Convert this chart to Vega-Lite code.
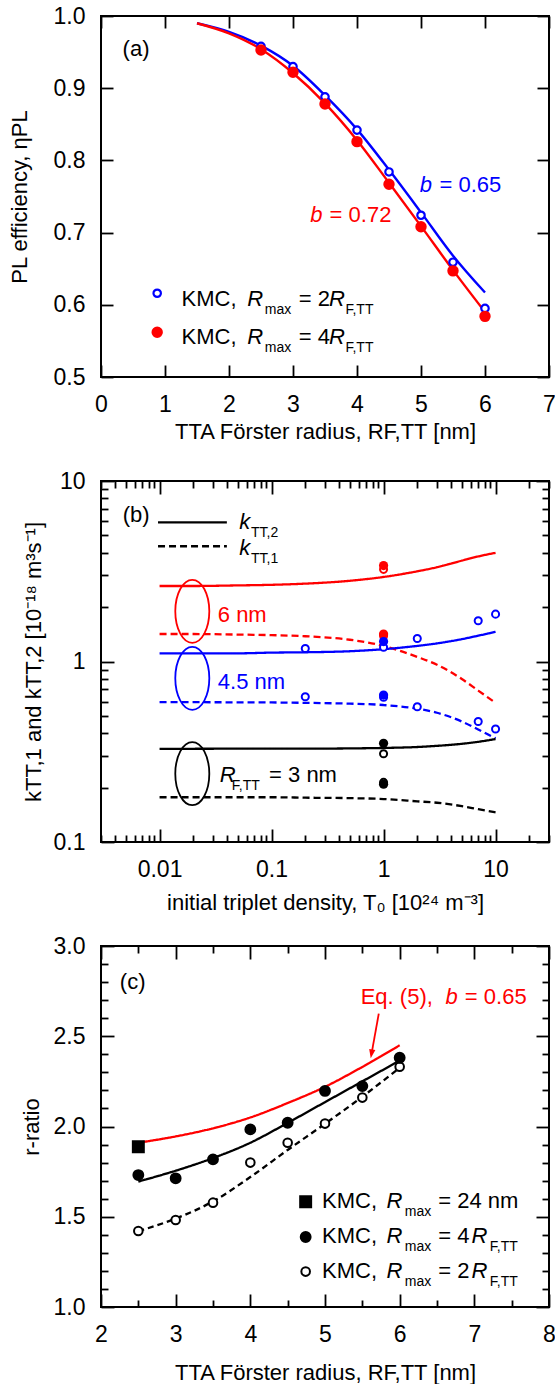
{
  "$schema": "https://vega.github.io/schema/vega-lite/v6.json",
  "background": "white",
  "padding": {"left": 7, "top": 4, "right": 0, "bottom": 0},
  "spacing": 104,
  "bounds": "flush",
  "resolve": {"scale": {"color": "independent", "stroke": "independent", "fill": "independent", "size": "independent", "shape": "independent", "strokeDash": "independent"}},
  "config": {
    "font": "Liberation Sans",
    "view": {"stroke": "#000000", "strokeWidth": 2},
    "axis": {"domain": false, "grid": false, "tickColor": "#000000", "tickWidth": 1.8, "labelFont": "Liberation Sans", "labelFontSize": 23, "labelColor": "#000000", "titleFont": "Liberation Sans", "titleFontSize": 22, "titleFontWeight": "normal", "titleColor": "#000000", "labelFlush": false, "labelOverlap": false}
  },
  "datasets": {
    "a_lines": [
      {"R": 1.5, "eta": 0.990, "grp": "2R"}, {"R": 2.0, "eta": 0.978, "grp": "2R"}, {"R": 2.5, "eta": 0.959, "grp": "2R"}, {"R": 3.0, "eta": 0.931, "grp": "2R"}, {"R": 3.5, "eta": 0.890, "grp": "2R"}, {"R": 4.0, "eta": 0.843, "grp": "2R"}, {"R": 4.5, "eta": 0.787, "grp": "2R"}, {"R": 5.0, "eta": 0.728, "grp": "2R"}, {"R": 5.5, "eta": 0.668, "grp": "2R"}, {"R": 6.0, "eta": 0.617, "grp": "2R"},
      {"R": 1.5, "eta": 0.990, "grp": "4R"}, {"R": 2.0, "eta": 0.976, "grp": "4R"}, {"R": 2.5, "eta": 0.954, "grp": "4R"}, {"R": 3.0, "eta": 0.921, "grp": "4R"}, {"R": 3.5, "eta": 0.879, "grp": "4R"}, {"R": 4.0, "eta": 0.828, "grp": "4R"}, {"R": 4.5, "eta": 0.769, "grp": "4R"}, {"R": 5.0, "eta": 0.709, "grp": "4R"}, {"R": 5.5, "eta": 0.648, "grp": "4R"}, {"R": 6.0, "eta": 0.590, "grp": "4R"}
    ],
    "a_pts": [
      {"R": 2.5, "eta": 0.958, "sim": "2R"}, {"R": 3.0, "eta": 0.930, "sim": "2R"}, {"R": 3.5, "eta": 0.888, "sim": "2R"}, {"R": 4.0, "eta": 0.842, "sim": "2R"}, {"R": 4.5, "eta": 0.784, "sim": "2R"}, {"R": 5.0, "eta": 0.724, "sim": "2R"}, {"R": 5.5, "eta": 0.659, "sim": "2R"}, {"R": 6.0, "eta": 0.595, "sim": "2R"},
      {"R": 2.5, "eta": 0.953, "sim": "4R"}, {"R": 3.0, "eta": 0.922, "sim": "4R"}, {"R": 3.5, "eta": 0.878, "sim": "4R"}, {"R": 4.0, "eta": 0.826, "sim": "4R"}, {"R": 4.5, "eta": 0.767, "sim": "4R"}, {"R": 5.0, "eta": 0.708, "sim": "4R"}, {"R": 5.5, "eta": 0.647, "sim": "4R"}, {"R": 6.0, "eta": 0.584, "sim": "4R"}
    ],
    "a_leg": [
      {"R": 0.878, "eta": 0.616, "sim": "2R"}, {"R": 0.878, "eta": 0.562, "sim": "4R"}
    ],
    "a_txt": [
      {"R": 0.3375, "eta": 0.944, "text": "(a)", "part": "roman", "grp": "plain"},
      {"R": 4.98, "eta": 0.7565, "text": "b", "part": "italic", "grp": "2R"},
      {"R": 5.288, "eta": 0.7565, "text": "= 0.65", "part": "roman", "grp": "2R"},
      {"R": 3.27, "eta": 0.715, "text": "b", "part": "italic", "grp": "4R"},
      {"R": 3.572, "eta": 0.715, "text": "= 0.72", "part": "roman", "grp": "4R"},
      {"R": 1.258, "eta": 0.599, "text": "KMC,", "part": "roman", "grp": "plain"},
      {"R": 2.284, "eta": 0.599, "text": "R", "part": "italic", "grp": "plain"},
      {"R": 2.56, "eta": 0.599, "text": "max", "part": "sub", "grp": "plain"},
      {"R": 3.09, "eta": 0.599, "text": "= 2", "part": "roman", "grp": "plain"},
      {"R": 3.561, "eta": 0.599, "text": "R", "part": "italic", "grp": "plain"},
      {"R": 3.82, "eta": 0.599, "text": "F,TT", "part": "sub", "grp": "plain"},
      {"R": 1.258, "eta": 0.5458, "text": "KMC,", "part": "roman", "grp": "plain"},
      {"R": 2.284, "eta": 0.5458, "text": "R", "part": "italic", "grp": "plain"},
      {"R": 2.56, "eta": 0.5458, "text": "max", "part": "sub", "grp": "plain"},
      {"R": 3.09, "eta": 0.5458, "text": "= 4", "part": "roman", "grp": "plain"},
      {"R": 3.561, "eta": 0.5458, "text": "R", "part": "italic", "grp": "plain"},
      {"R": 3.82, "eta": 0.5458, "text": "F,TT", "part": "sub", "grp": "plain"}
    ],
    "b_lines": [
      {"T0": 0.01, "kv": 2.62, "R": "6 nm", "k": "kTT,2"}, {"T0": 0.02, "kv": 2.62, "R": "6 nm", "k": "kTT,2"}, {"T0": 0.05, "kv": 2.64, "R": "6 nm", "k": "kTT,2"}, {"T0": 0.1, "kv": 2.66, "R": "6 nm", "k": "kTT,2"}, {"T0": 0.2, "kv": 2.70, "R": "6 nm", "k": "kTT,2"}, {"T0": 0.5, "kv": 2.80, "R": "6 nm", "k": "kTT,2"}, {"T0": 1, "kv": 2.94, "R": "6 nm", "k": "kTT,2"}, {"T0": 2, "kv": 3.16, "R": "6 nm", "k": "kTT,2"}, {"T0": 3, "kv": 3.33, "R": "6 nm", "k": "kTT,2"}, {"T0": 5, "kv": 3.62, "R": "6 nm", "k": "kTT,2"}, {"T0": 7, "kv": 3.82, "R": "6 nm", "k": "kTT,2"}, {"T0": 10, "kv": 4.0, "R": "6 nm", "k": "kTT,2"},
      {"T0": 0.01, "kv": 1.42, "R": "6 nm", "k": "kTT,1"}, {"T0": 0.02, "kv": 1.42, "R": "6 nm", "k": "kTT,1"}, {"T0": 0.05, "kv": 1.41, "R": "6 nm", "k": "kTT,1"}, {"T0": 0.1, "kv": 1.40, "R": "6 nm", "k": "kTT,1"}, {"T0": 0.2, "kv": 1.38, "R": "6 nm", "k": "kTT,1"}, {"T0": 0.5, "kv": 1.32, "R": "6 nm", "k": "kTT,1"}, {"T0": 1, "kv": 1.22, "R": "6 nm", "k": "kTT,1"}, {"T0": 2, "kv": 1.06, "R": "6 nm", "k": "kTT,1"}, {"T0": 3, "kv": 0.96, "R": "6 nm", "k": "kTT,1"}, {"T0": 5, "kv": 0.80, "R": "6 nm", "k": "kTT,1"}, {"T0": 7, "kv": 0.69, "R": "6 nm", "k": "kTT,1"}, {"T0": 10, "kv": 0.59, "R": "6 nm", "k": "kTT,1"},
      {"T0": 0.01, "kv": 1.11, "R": "4.5 nm", "k": "kTT,2"}, {"T0": 0.02, "kv": 1.11, "R": "4.5 nm", "k": "kTT,2"}, {"T0": 0.05, "kv": 1.11, "R": "4.5 nm", "k": "kTT,2"}, {"T0": 0.1, "kv": 1.12, "R": "4.5 nm", "k": "kTT,2"}, {"T0": 0.2, "kv": 1.125, "R": "4.5 nm", "k": "kTT,2"}, {"T0": 0.5, "kv": 1.14, "R": "4.5 nm", "k": "kTT,2"}, {"T0": 1, "kv": 1.17, "R": "4.5 nm", "k": "kTT,2"}, {"T0": 2, "kv": 1.22, "R": "4.5 nm", "k": "kTT,2"}, {"T0": 3, "kv": 1.26, "R": "4.5 nm", "k": "kTT,2"}, {"T0": 5, "kv": 1.33, "R": "4.5 nm", "k": "kTT,2"}, {"T0": 7, "kv": 1.39, "R": "4.5 nm", "k": "kTT,2"}, {"T0": 10, "kv": 1.46, "R": "4.5 nm", "k": "kTT,2"},
      {"T0": 0.01, "kv": 0.595, "R": "4.5 nm", "k": "kTT,1"}, {"T0": 0.02, "kv": 0.595, "R": "4.5 nm", "k": "kTT,1"}, {"T0": 0.05, "kv": 0.594, "R": "4.5 nm", "k": "kTT,1"}, {"T0": 0.1, "kv": 0.593, "R": "4.5 nm", "k": "kTT,1"}, {"T0": 0.2, "kv": 0.59, "R": "4.5 nm", "k": "kTT,1"}, {"T0": 0.5, "kv": 0.584, "R": "4.5 nm", "k": "kTT,1"}, {"T0": 1, "kv": 0.574, "R": "4.5 nm", "k": "kTT,1"}, {"T0": 2, "kv": 0.548, "R": "4.5 nm", "k": "kTT,1"}, {"T0": 3, "kv": 0.52, "R": "4.5 nm", "k": "kTT,1"}, {"T0": 5, "kv": 0.465, "R": "4.5 nm", "k": "kTT,1"}, {"T0": 7, "kv": 0.42, "R": "4.5 nm", "k": "kTT,1"}, {"T0": 10, "kv": 0.375, "R": "4.5 nm", "k": "kTT,1"},
      {"T0": 0.01, "kv": 0.328, "R": "3 nm", "k": "kTT,2"}, {"T0": 0.1, "kv": 0.329, "R": "3 nm", "k": "kTT,2"}, {"T0": 0.2, "kv": 0.329, "R": "3 nm", "k": "kTT,2"}, {"T0": 0.5, "kv": 0.330, "R": "3 nm", "k": "kTT,2"}, {"T0": 1, "kv": 0.332, "R": "3 nm", "k": "kTT,2"}, {"T0": 2, "kv": 0.336, "R": "3 nm", "k": "kTT,2"}, {"T0": 3, "kv": 0.341, "R": "3 nm", "k": "kTT,2"}, {"T0": 5, "kv": 0.350, "R": "3 nm", "k": "kTT,2"}, {"T0": 7, "kv": 0.359, "R": "3 nm", "k": "kTT,2"}, {"T0": 10, "kv": 0.372, "R": "3 nm", "k": "kTT,2"},
      {"T0": 0.01, "kv": 0.177, "R": "3 nm", "k": "kTT,1"}, {"T0": 0.1, "kv": 0.177, "R": "3 nm", "k": "kTT,1"}, {"T0": 0.2, "kv": 0.176, "R": "3 nm", "k": "kTT,1"}, {"T0": 0.5, "kv": 0.175, "R": "3 nm", "k": "kTT,1"}, {"T0": 1, "kv": 0.173, "R": "3 nm", "k": "kTT,1"}, {"T0": 2, "kv": 0.168, "R": "3 nm", "k": "kTT,1"}, {"T0": 3, "kv": 0.165, "R": "3 nm", "k": "kTT,1"}, {"T0": 5, "kv": 0.158, "R": "3 nm", "k": "kTT,1"}, {"T0": 7, "kv": 0.152, "R": "3 nm", "k": "kTT,1"}, {"T0": 10, "kv": 0.146, "R": "3 nm", "k": "kTT,1"}
    ],
    "b_leglines": [
      {"T0": 0.00969, "kv": 5.9, "k": "kTT,2", "R": "plain"}, {"T0": 0.0399, "kv": 5.9, "k": "kTT,2", "R": "plain"},
      {"T0": 0.00969, "kv": 4.35, "k": "kTT,1", "R": "plain"}, {"T0": 0.0399, "kv": 4.35, "k": "kTT,1", "R": "plain"}
    ],
    "b_ell": [
      {"T0": 0.0196, "kv": 1.897, "R": "6 nm"}, {"T0": 0.0196, "kv": 0.807, "R": "4.5 nm"}, {"T0": 0.0196, "kv": 0.239, "R": "3 nm"}
    ],
    "b_open": [
      {"T0": 1, "kv": 3.24, "R": "6 nm"}, {"T0": 1, "kv": 1.39, "R": "6 nm"},
      {"T0": 0.2, "kv": 1.18, "R": "4.5 nm"}, {"T0": 1, "kv": 1.20, "R": "4.5 nm"}, {"T0": 2, "kv": 1.34, "R": "4.5 nm"}, {"T0": 7, "kv": 1.68, "R": "4.5 nm"}, {"T0": 10, "kv": 1.83, "R": "4.5 nm"},
      {"T0": 0.2, "kv": 0.638, "R": "4.5 nm"}, {"T0": 1, "kv": 0.634, "R": "4.5 nm"}, {"T0": 2, "kv": 0.562, "R": "4.5 nm"}, {"T0": 7, "kv": 0.465, "R": "4.5 nm"}, {"T0": 10, "kv": 0.423, "R": "4.5 nm"},
      {"T0": 1, "kv": 0.308, "R": "3 nm"}, {"T0": 1, "kv": 0.214, "R": "3 nm"}
    ],
    "b_filled": [
      {"T0": 1, "kv": 3.40, "R": "6 nm"}, {"T0": 1, "kv": 1.42, "R": "6 nm"},
      {"T0": 1, "kv": 1.29, "R": "4.5 nm"}, {"T0": 1, "kv": 0.652, "R": "4.5 nm"},
      {"T0": 1, "kv": 0.352, "R": "3 nm"}, {"T0": 1, "kv": 0.209, "R": "3 nm"}
    ],
    "b_txt": [
      {"T0": 0.00468, "kv": 5.93, "text": "(b)", "part": "roman", "R": "plain"},
      {"T0": 0.0514, "kv": 5.44, "text": "k", "part": "italic", "R": "plain"},
      {"T0": 0.0656, "kv": 5.44, "text": "TT,2", "part": "sub", "R": "plain"},
      {"T0": 0.0514, "kv": 3.88, "text": "k", "part": "italic", "R": "plain"},
      {"T0": 0.0656, "kv": 3.88, "text": "TT,1", "part": "sub", "R": "plain"},
      {"T0": 0.0331, "kv": 1.656, "text": "6 nm", "part": "roman", "R": "6 nm"},
      {"T0": 0.0331, "kv": 0.708, "text": "4.5 nm", "part": "roman", "R": "4.5 nm"},
      {"T0": 0.0344, "kv": 0.215, "text": "R", "part": "italic", "R": "3 nm"},
      {"T0": 0.0442, "kv": 0.215, "text": "F,TT", "part": "sub", "R": "3 nm"},
      {"T0": 0.095, "kv": 0.215, "text": "= 3 nm", "part": "roman", "R": "3 nm"}
    ],
    "c_lines": [
      {"R": 2.5, "r": 1.91, "curve": "eq5"}, {"R": 3.0, "r": 1.945, "curve": "eq5"}, {"R": 3.5, "r": 1.99, "curve": "eq5"}, {"R": 4.0, "r": 2.05, "curve": "eq5"}, {"R": 4.5, "r": 2.13, "curve": "eq5"}, {"R": 5.0, "r": 2.22, "curve": "eq5"}, {"R": 5.5, "r": 2.33, "curve": "eq5"}, {"R": 6.0, "r": 2.45, "curve": "eq5"},
      {"R": 2.5, "r": 1.695, "curve": "fit4R"}, {"R": 3.0, "r": 1.755, "curve": "fit4R"}, {"R": 3.5, "r": 1.825, "curve": "fit4R"}, {"R": 4.0, "r": 1.91, "curve": "fit4R"}, {"R": 4.5, "r": 2.02, "curve": "fit4R"}, {"R": 5.0, "r": 2.135, "curve": "fit4R"}, {"R": 5.5, "r": 2.25, "curve": "fit4R"}, {"R": 6.0, "r": 2.365, "curve": "fit4R"},
      {"R": 2.5, "r": 1.42, "curve": "fit2R"}, {"R": 3.0, "r": 1.49, "curve": "fit2R"}, {"R": 3.5, "r": 1.585, "curve": "fit2R"}, {"R": 4.0, "r": 1.72, "curve": "fit2R"}, {"R": 4.5, "r": 1.87, "curve": "fit2R"}, {"R": 5.0, "r": 2.015, "curve": "fit2R"}, {"R": 5.5, "r": 2.165, "curve": "fit2R"}, {"R": 6.0, "r": 2.325, "curve": "fit2R"}
    ],
    "c_pts": [
      {"R": 2.5, "r": 1.421, "sim": "2R"}, {"R": 3.0, "r": 1.482, "sim": "2R"}, {"R": 3.5, "r": 1.578, "sim": "2R"}, {"R": 4.0, "r": 1.80, "sim": "2R"}, {"R": 4.5, "r": 1.910, "sim": "2R"}, {"R": 5.0, "r": 2.016, "sim": "2R"}, {"R": 5.5, "r": 2.160, "sim": "2R"}, {"R": 6.0, "r": 2.331, "sim": "2R"},
      {"R": 2.5, "r": 1.731, "sim": "4R"}, {"R": 3.0, "r": 1.713, "sim": "4R"}, {"R": 3.5, "r": 1.818, "sim": "4R"}, {"R": 4.0, "r": 1.984, "sim": "4R"}, {"R": 4.5, "r": 2.021, "sim": "4R"}, {"R": 5.0, "r": 2.197, "sim": "4R"}, {"R": 5.5, "r": 2.224, "sim": "4R"}, {"R": 6.0, "r": 2.381, "sim": "4R"},
      {"R": 2.5, "r": 1.888, "sim": "24nm"}
    ],
    "c_leg": [
      {"R": 4.741, "r": 1.583, "sim": "24nm"}, {"R": 4.741, "r": 1.388, "sim": "4R"}, {"R": 4.741, "r": 1.196, "sim": "2R"}
    ],
    "c_arrow": [
      {"R": 5.720, "r": 2.625, "R2": 5.623, "r2": 2.402}
    ],
    "c_head": [
      {"R": 5.623, "r": 2.402}
    ],
    "c_txt": [
      {"R": 2.252, "r": 2.76, "text": "(c)", "part": "roman", "curve": "plain"},
      {"R": 5.478, "r": 2.677, "text": "Eq. (5),", "part": "roman", "curve": "eq5"},
      {"R": 6.614, "r": 2.677, "text": "b", "part": "italic", "curve": "eq5"},
      {"R": 6.873, "r": 2.677, "text": "= 0.65", "part": "roman", "curve": "eq5"},
      {"R": 4.961, "r": 1.550, "text": "KMC,", "part": "roman", "curve": "plain"},
      {"R": 5.823, "r": 1.550, "text": "R", "part": "italic", "curve": "plain"},
      {"R": 6.068, "r": 1.550, "text": "max", "part": "sub", "curve": "plain"},
      {"R": 6.516, "r": 1.550, "text": "= 24 nm", "part": "roman", "curve": "plain"},
      {"R": 4.961, "r": 1.356, "text": "KMC,", "part": "roman", "curve": "plain"},
      {"R": 5.823, "r": 1.356, "text": "R", "part": "italic", "curve": "plain"},
      {"R": 6.068, "r": 1.356, "text": "max", "part": "sub", "curve": "plain"},
      {"R": 6.516, "r": 1.356, "text": "= 4", "part": "roman", "curve": "plain"},
      {"R": 6.962, "r": 1.356, "text": "R", "part": "italic", "curve": "plain"},
      {"R": 7.208, "r": 1.356, "text": "F,TT", "part": "sub", "curve": "plain"},
      {"R": 4.961, "r": 1.162, "text": "KMC,", "part": "roman", "curve": "plain"},
      {"R": 5.823, "r": 1.162, "text": "R", "part": "italic", "curve": "plain"},
      {"R": 6.068, "r": 1.162, "text": "max", "part": "sub", "curve": "plain"},
      {"R": 6.516, "r": 1.162, "text": "= 2", "part": "roman", "curve": "plain"},
      {"R": 6.962, "r": 1.162, "text": "R", "part": "italic", "curve": "plain"},
      {"R": 7.208, "r": 1.162, "text": "F,TT", "part": "sub", "curve": "plain"}
    ]
  },
  "vconcat": [
    {
      "width": 448, "height": 361,
      "resolve": {"axis": {"x": "independent", "y": "independent"}},
      "layer": [
        {
          "data": {"name": "a_lines"},
          "mark": {"type": "line", "strokeWidth": 2.4, "interpolate": "monotone"},
          "encoding": {
            "x": {"field": "R", "type": "quantitative", "scale": {"domain": [0, 7], "nice": false, "zero": false},
                  "axis": {"orient": "bottom", "values": [0, 1, 2, 3, 4, 5, 6, 7], "tickSize": -12, "labelPadding": 28, "title": "TTA Förster radius, RF,TT [nm]", "titlePadding": 5}},
            "y": {"field": "eta", "type": "quantitative", "scale": {"domain": [0.5, 1], "nice": false, "zero": false},
                  "axis": {"orient": "left", "values": [0.5, 0.6, 0.7, 0.8, 0.9, 1.0], "format": ".1f", "tickSize": -12, "labelPadding": 28, "title": "PL efficiency, ηPL", "titlePadding": 22}},
            "color": {"field": "grp", "type": "nominal", "scale": {"domain": ["2R", "4R", "plain"], "range": ["#0000ff", "#ff0000", "#000000"]}, "legend": null}
          }
        },
        {
          "data": {"name": "a_pts"},
          "mark": {"type": "point", "filled": true, "strokeWidth": 2.2, "opacity": 1},
          "encoding": {
            "x": {"field": "R", "type": "quantitative", "scale": {"domain": [0, 7], "nice": false, "zero": false},
                  "axis": {"orient": "top", "values": [0, 1, 2, 3, 4, 5, 6, 7], "tickSize": -12, "labels": false, "title": null}},
            "y": {"field": "eta", "type": "quantitative", "scale": {"domain": [0.5, 1], "nice": false, "zero": false},
                  "axis": {"orient": "right", "values": [0.5, 0.6, 0.7, 0.8, 0.9, 1.0], "tickSize": -12, "labels": false, "title": null}},
            "fill": {"field": "sim", "type": "nominal", "scale": {"domain": ["2R", "4R"], "range": ["#ffffff", "#ff0000"]}, "legend": null},
            "stroke": {"field": "sim", "type": "nominal", "scale": {"domain": ["2R", "4R"], "range": ["#0000ff", "#ff0000"]}, "legend": null},
            "size": {"field": "sim", "type": "ordinal", "scale": {"domain": ["2R", "4R"], "range": [55, 85]}, "legend": null}
          }
        },
        {
          "data": {"name": "a_leg"},
          "mark": {"type": "point", "filled": true, "strokeWidth": 2.2, "opacity": 1},
          "encoding": {
            "x": {"field": "R", "type": "quantitative", "axis": null},
            "y": {"field": "eta", "type": "quantitative", "axis": null},
            "fill": {"field": "sim", "type": "nominal", "legend": null},
            "stroke": {"field": "sim", "type": "nominal", "legend": null},
            "size": {"field": "sim", "type": "ordinal", "legend": null}
          }
        },
        {
          "data": {"name": "a_txt"},
          "transform": [{"filter": "datum.part === 'roman'"}],
          "mark": {"type": "text", "align": "left", "baseline": "alphabetic", "fontSize": 22, "font": "Liberation Sans"},
          "encoding": {
            "x": {"field": "R", "type": "quantitative", "axis": null},
            "y": {"field": "eta", "type": "quantitative", "axis": null},
            "text": {"field": "text"},
            "color": {"field": "grp", "type": "nominal", "legend": null}
          }
        },
        {
          "data": {"name": "a_txt"},
          "transform": [{"filter": "datum.part === 'italic'"}],
          "mark": {"type": "text", "align": "left", "baseline": "alphabetic", "fontSize": 22, "fontStyle": "italic", "font": "Liberation Sans"},
          "encoding": {
            "x": {"field": "R", "type": "quantitative", "axis": null},
            "y": {"field": "eta", "type": "quantitative", "axis": null},
            "text": {"field": "text"},
            "color": {"field": "grp", "type": "nominal", "legend": null}
          }
        },
        {
          "data": {"name": "a_txt"},
          "transform": [{"filter": "datum.part === 'sub'"}],
          "mark": {"type": "text", "align": "left", "baseline": "alphabetic", "fontSize": 14, "dy": 8, "font": "Liberation Sans"},
          "encoding": {
            "x": {"field": "R", "type": "quantitative", "axis": null},
            "y": {"field": "eta", "type": "quantitative", "axis": null},
            "text": {"field": "text"},
            "color": {"field": "grp", "type": "nominal", "legend": null}
          }
        }
      ]
    },
    {
      "width": 448, "height": 361,
      "resolve": {"axis": {"x": "independent", "y": "independent"}},
      "layer": [
        {
          "data": {"name": "b_lines"},
          "mark": {"type": "line", "strokeWidth": 2.3, "interpolate": "monotone"},
          "encoding": {
            "x": {"field": "T0", "type": "quantitative", "scale": {"type": "log", "domain": [0.003, 30], "nice": false},
                  "axis": {"orient": "bottom", "values": [0.003, 0.004, 0.005, 0.006, 0.007, 0.008, 0.009, 0.01, 0.02, 0.03, 0.04, 0.05, 0.06, 0.07, 0.08, 0.09, 0.1, 0.2, 0.3, 0.4, 0.5, 0.6, 0.7, 0.8, 0.9, 1, 2, 3, 4, 5, 6, 7, 8, 9, 10, 20, 30],
                           "tickSize": {"condition": {"test": "indexof([0.01, 0.1, 1, 10], datum.value) >= 0", "value": -13}, "value": -7},
                           "labelPadding": 29,
                           "labelExpr": "datum.value == 0.01 ? '0.01' : datum.value == 0.1 ? '0.1' : datum.value == 1 ? '1' : datum.value == 10 ? '10' : ''",
                           "title": "initial triplet density, T₀ [10²⁴ m⁻³]", "titlePadding": 5}},
            "y": {"field": "kv", "type": "quantitative", "scale": {"type": "log", "domain": [0.1, 10], "nice": false},
                  "axis": {"orient": "left", "values": [0.1, 0.2, 0.3, 0.4, 0.5, 0.6, 0.7, 0.8, 0.9, 1, 2, 3, 4, 5, 6, 7, 8, 9, 10],
                           "tickSize": {"condition": {"test": "indexof([0.1, 1, 10], datum.value) >= 0", "value": -13}, "value": -7},
                           "labelPadding": 29,
                           "labelExpr": "datum.value == 0.1 ? '0.1' : datum.value == 1 ? '1' : datum.value == 10 ? '10' : ''",
                           "title": "kTT,1 and kTT,2 [10⁻¹⁸ m³s⁻¹]", "titlePadding": 8}},
            "color": {"field": "R", "type": "nominal", "scale": {"domain": ["3 nm", "4.5 nm", "6 nm", "plain"], "range": ["#000000", "#0000ff", "#ff0000", "#000000"]}, "legend": null},
            "strokeDash": {"field": "k", "type": "nominal", "scale": {"domain": ["kTT,2", "kTT,1"], "range": [[1, 0], [7, 4]]}, "legend": null}
          }
        },
        {
          "data": {"name": "b_leglines"},
          "mark": {"type": "line", "strokeWidth": 2.3},
          "encoding": {
            "x": {"field": "T0", "type": "quantitative", "axis": null},
            "y": {"field": "kv", "type": "quantitative", "axis": null},
            "color": {"field": "R", "type": "nominal", "legend": null},
            "strokeDash": {"field": "k", "type": "nominal", "legend": null}
          }
        },
        {
          "data": {"name": "b_ell"},
          "mark": {"type": "point", "shape": "M0,-1A0.54,1 0 1,1 0,1A0.54,1 0 1,1 0,-1Z", "size": 3969, "filled": false, "strokeWidth": 1.8, "opacity": 1},
          "encoding": {
            "x": {"field": "T0", "type": "quantitative", "axis": null},
            "y": {"field": "kv", "type": "quantitative", "axis": null},
            "color": {"field": "R", "type": "nominal", "legend": null}
          }
        },
        {
          "data": {"name": "b_open"},
          "mark": {"type": "point", "filled": true, "fill": "#ffffff", "size": 50, "strokeWidth": 2, "opacity": 1},
          "encoding": {
            "x": {"field": "T0", "type": "quantitative", "axis": null},
            "y": {"field": "kv", "type": "quantitative", "axis": null},
            "stroke": {"field": "R", "type": "nominal", "scale": {"domain": ["3 nm", "4.5 nm", "6 nm"], "range": ["#000000", "#0000ff", "#ff0000"]}, "legend": null}
          }
        },
        {
          "data": {"name": "b_filled"},
          "mark": {"type": "point", "filled": true, "size": 85, "opacity": 1},
          "encoding": {
            "x": {"field": "T0", "type": "quantitative",
                  "axis": {"orient": "top", "values": [0.003, 0.004, 0.005, 0.006, 0.007, 0.008, 0.009, 0.01, 0.02, 0.03, 0.04, 0.05, 0.06, 0.07, 0.08, 0.09, 0.1, 0.2, 0.3, 0.4, 0.5, 0.6, 0.7, 0.8, 0.9, 1, 2, 3, 4, 5, 6, 7, 8, 9, 10, 20, 30],
                           "tickSize": {"condition": {"test": "indexof([0.01, 0.1, 1, 10], datum.value) >= 0", "value": -13}, "value": -7},
                           "labels": false, "title": null}},
            "y": {"field": "kv", "type": "quantitative",
                  "axis": {"orient": "right", "values": [0.1, 0.2, 0.3, 0.4, 0.5, 0.6, 0.7, 0.8, 0.9, 1, 2, 3, 4, 5, 6, 7, 8, 9, 10],
                           "tickSize": {"condition": {"test": "indexof([0.1, 1, 10], datum.value) >= 0", "value": -13}, "value": -7},
                           "labels": false, "title": null}},
            "color": {"field": "R", "type": "nominal", "legend": null}
          }
        },
        {
          "data": {"name": "b_txt"},
          "transform": [{"filter": "datum.part === 'roman'"}],
          "mark": {"type": "text", "align": "left", "baseline": "alphabetic", "fontSize": 22, "font": "Liberation Sans"},
          "encoding": {
            "x": {"field": "T0", "type": "quantitative", "axis": null},
            "y": {"field": "kv", "type": "quantitative", "axis": null},
            "text": {"field": "text"},
            "color": {"field": "R", "type": "nominal", "legend": null}
          }
        },
        {
          "data": {"name": "b_txt"},
          "transform": [{"filter": "datum.part === 'italic'"}],
          "mark": {"type": "text", "align": "left", "baseline": "alphabetic", "fontSize": 22, "fontStyle": "italic", "font": "Liberation Sans"},
          "encoding": {
            "x": {"field": "T0", "type": "quantitative", "axis": null},
            "y": {"field": "kv", "type": "quantitative", "axis": null},
            "text": {"field": "text"},
            "color": {"field": "R", "type": "nominal", "legend": null}
          }
        },
        {
          "data": {"name": "b_txt"},
          "transform": [{"filter": "datum.part === 'sub'"}],
          "mark": {"type": "text", "align": "left", "baseline": "alphabetic", "fontSize": 14, "dy": 8, "font": "Liberation Sans"},
          "encoding": {
            "x": {"field": "T0", "type": "quantitative", "axis": null},
            "y": {"field": "kv", "type": "quantitative", "axis": null},
            "text": {"field": "text"},
            "color": {"field": "R", "type": "nominal", "legend": null}
          }
        }
      ]
    },
    {
      "width": 448, "height": 361,
      "resolve": {"axis": {"x": "independent", "y": "independent"}},
      "layer": [
        {
          "data": {"name": "c_lines"},
          "mark": {"type": "line", "strokeWidth": 2.3, "interpolate": "monotone"},
          "encoding": {
            "x": {"field": "R", "type": "quantitative", "scale": {"domain": [2, 8], "nice": false, "zero": false},
                  "axis": {"orient": "bottom", "values": [2, 2.5, 3, 3.5, 4, 4.5, 5, 5.5, 6, 6.5, 7, 7.5, 8],
                           "tickSize": {"condition": {"test": "datum.value % 1 === 0", "value": -13}, "value": -7},
                           "labelPadding": 29,
                           "labelExpr": "datum.value % 1 === 0 ? format(datum.value, 'd') : ''",
                           "title": "TTA Förster radius, RF,TT [nm]", "titlePadding": 10}},
            "y": {"field": "r", "type": "quantitative", "scale": {"domain": [1, 3], "nice": false, "zero": false},
                  "axis": {"orient": "left", "values": [1, 1.1, 1.2, 1.3, 1.4, 1.5, 1.6, 1.7, 1.8, 1.9, 2, 2.1, 2.2, 2.3, 2.4, 2.5, 2.6, 2.7, 2.8, 2.9, 3],
                           "tickSize": {"condition": {"test": "abs(datum.value * 2 - round(datum.value * 2)) < 0.000001", "value": -13}, "value": -7},
                           "labelPadding": 29,
                           "labelExpr": "abs(datum.value * 2 - round(datum.value * 2)) < 0.000001 ? format(datum.value, '.1f') : ''",
                           "title": "r-ratio", "titlePadding": 10}},
            "color": {"field": "curve", "type": "nominal", "scale": {"domain": ["eq5", "fit4R", "fit2R", "plain"], "range": ["#ff0000", "#000000", "#000000", "#000000"]}, "legend": null},
            "strokeDash": {"field": "curve", "type": "nominal", "scale": {"domain": ["eq5", "fit4R", "fit2R"], "range": [[1, 0], [1, 0], [6, 4]]}, "legend": null}
          }
        },
        {
          "data": {"name": "c_arrow"},
          "mark": {"type": "rule", "color": "#ff0000", "strokeWidth": 1.8},
          "encoding": {
            "x": {"field": "R", "type": "quantitative", "axis": null},
            "y": {"field": "r", "type": "quantitative", "axis": null},
            "x2": {"field": "R2"},
            "y2": {"field": "r2"}
          }
        },
        {
          "data": {"name": "c_head"},
          "mark": {"type": "point", "shape": "M0,1L-0.7,-1L0.7,-1Z", "size": 81, "angle": 10, "filled": true, "color": "#ff0000", "opacity": 1},
          "encoding": {
            "x": {"field": "R", "type": "quantitative", "axis": null},
            "y": {"field": "r", "type": "quantitative", "axis": null}
          }
        },
        {
          "data": {"name": "c_pts"},
          "mark": {"type": "point", "filled": true, "stroke": "#000000", "strokeWidth": 2, "opacity": 1},
          "encoding": {
            "x": {"field": "R", "type": "quantitative",
                  "axis": {"orient": "top", "values": [2, 2.5, 3, 3.5, 4, 4.5, 5, 5.5, 6, 6.5, 7, 7.5, 8],
                           "tickSize": {"condition": {"test": "datum.value % 1 === 0", "value": -13}, "value": -7},
                           "labels": false, "title": null}},
            "y": {"field": "r", "type": "quantitative",
                  "axis": {"orient": "right", "values": [1, 1.1, 1.2, 1.3, 1.4, 1.5, 1.6, 1.7, 1.8, 1.9, 2, 2.1, 2.2, 2.3, 2.4, 2.5, 2.6, 2.7, 2.8, 2.9, 3],
                           "tickSize": {"condition": {"test": "abs(datum.value * 2 - round(datum.value * 2)) < 0.000001", "value": -13}, "value": -7},
                           "labels": false, "title": null}},
            "shape": {"field": "sim", "type": "nominal", "scale": {"domain": ["24nm", "4R", "2R"], "range": ["square", "circle", "circle"]}, "legend": null},
            "fill": {"field": "sim", "type": "nominal", "scale": {"domain": ["24nm", "4R", "2R"], "range": ["#000000", "#000000", "#ffffff"]}, "legend": null},
            "size": {"field": "sim", "type": "ordinal", "scale": {"domain": ["24nm", "4R", "2R"], "range": [120, 74, 50]}, "legend": null}
          }
        },
        {
          "data": {"name": "c_leg"},
          "mark": {"type": "point", "filled": true, "stroke": "#000000", "strokeWidth": 2, "opacity": 1},
          "encoding": {
            "x": {"field": "R", "type": "quantitative", "axis": null},
            "y": {"field": "r", "type": "quantitative", "axis": null},
            "shape": {"field": "sim", "type": "nominal", "legend": null},
            "fill": {"field": "sim", "type": "nominal", "legend": null},
            "size": {"field": "sim", "type": "ordinal", "legend": null}
          }
        },
        {
          "data": {"name": "c_txt"},
          "transform": [{"filter": "datum.part === 'roman'"}],
          "mark": {"type": "text", "align": "left", "baseline": "alphabetic", "fontSize": 22, "font": "Liberation Sans"},
          "encoding": {
            "x": {"field": "R", "type": "quantitative", "axis": null},
            "y": {"field": "r", "type": "quantitative", "axis": null},
            "text": {"field": "text"},
            "color": {"field": "curve", "type": "nominal", "legend": null}
          }
        },
        {
          "data": {"name": "c_txt"},
          "transform": [{"filter": "datum.part === 'italic'"}],
          "mark": {"type": "text", "align": "left", "baseline": "alphabetic", "fontSize": 22, "fontStyle": "italic", "font": "Liberation Sans"},
          "encoding": {
            "x": {"field": "R", "type": "quantitative", "axis": null},
            "y": {"field": "r", "type": "quantitative", "axis": null},
            "text": {"field": "text"},
            "color": {"field": "curve", "type": "nominal", "legend": null}
          }
        },
        {
          "data": {"name": "c_txt"},
          "transform": [{"filter": "datum.part === 'sub'"}],
          "mark": {"type": "text", "align": "left", "baseline": "alphabetic", "fontSize": 14, "dy": 8, "font": "Liberation Sans"},
          "encoding": {
            "x": {"field": "R", "type": "quantitative", "axis": null},
            "y": {"field": "r", "type": "quantitative", "axis": null},
            "text": {"field": "text"},
            "color": {"field": "curve", "type": "nominal", "legend": null}
          }
        }
      ]
    }
  ]
}
